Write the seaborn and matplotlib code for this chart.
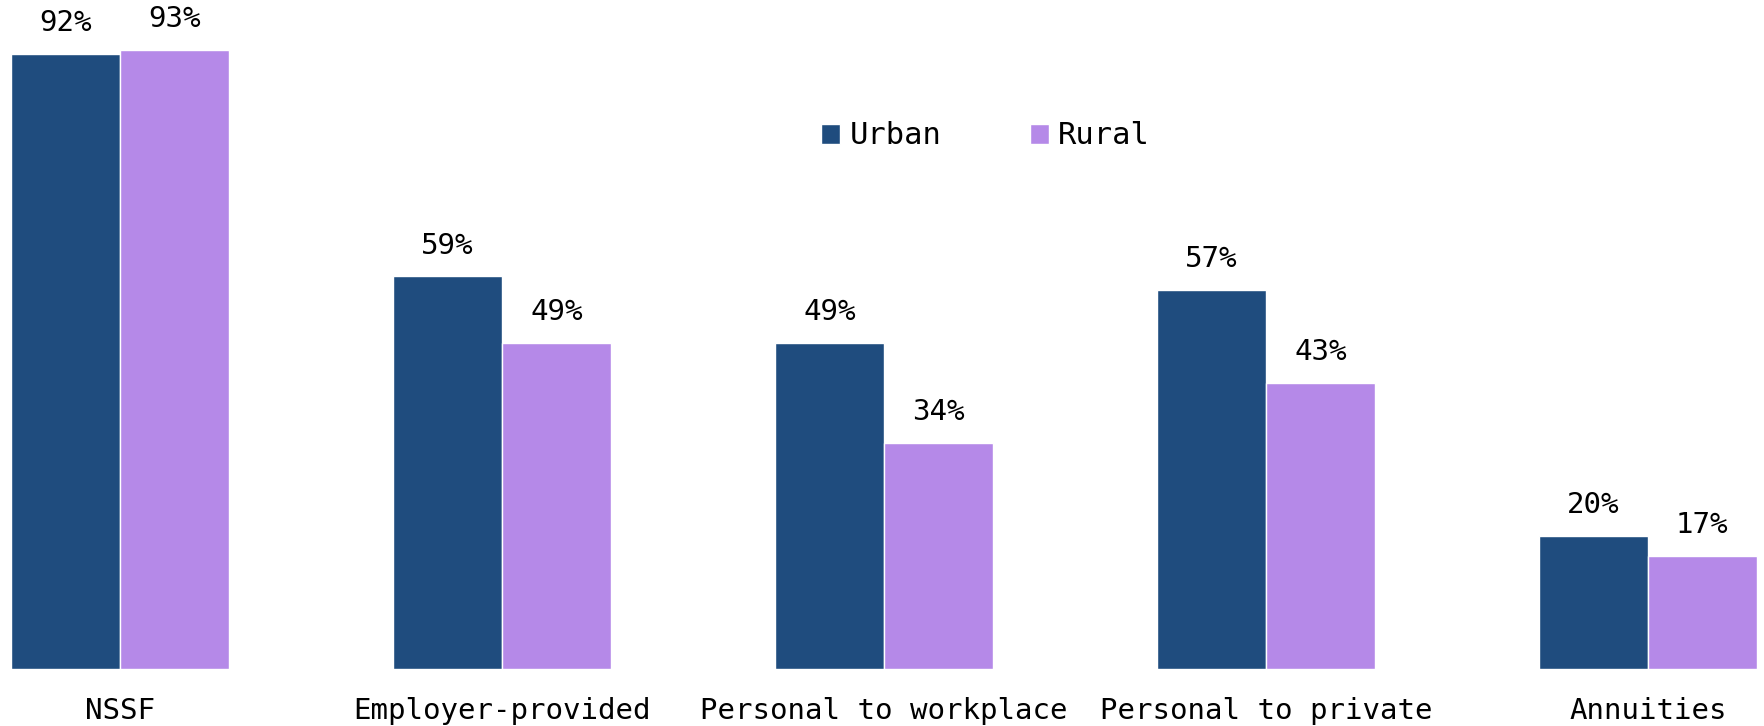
import pandas as pd
import seaborn as sns
import matplotlib.pyplot as plt

# data (NSSF urban bar is drawn a bit above 92)
categories = ["NSSF", "Employer-provided", "Personal to workplace", "Personal to private", "Annuities"]
urban = [92.4, 59, 49, 57, 20]
rural = [93, 49, 34, 43, 17]
areas = ["Urban", "Rural"]
colors = ["#1F4C7E", "#B589E8"]

df = pd.DataFrame({
    "type": categories * 2,
    "area": ["Urban"] * len(categories) + ["Rural"] * len(categories),
    "value": urban + rural,
})

sns.set_style("white")
plt.rcParams["font.family"] = ["DejaVu Sans Mono"]
plt.rcParams["text.color"] = "black"
plt.rcParams["xtick.color"] = "black"

fig = plt.figure(figsize=(17.64, 7.26), dpi=100)
ax = fig.add_axes([0, 57 / 726, 1, 669 / 726])

sns.barplot(data=df, x="type", y="value", hue="area", hue_order=areas,
            palette=colors, width=0.57, saturation=1, ax=ax)

for c in ax.containers:
    ax.bar_label(c, fmt="{:.0f}%", padding=12, fontsize=21, color="black")

ax.set_xlim(-0.314, 4.304)
ax.set_ylim(0, 100.5)
ax.set_xlabel("")
ax.set_ylabel("")
ax.set_yticks([])
ax.tick_params(axis="x", length=0, pad=20, labelsize=21, labelcolor="black")
sns.despine(ax=ax, left=True, bottom=True)

ax.legend(loc="center left", bbox_to_anchor=(806 / 1764, 1 - 136 / 726),
          bbox_transform=fig.transFigure, ncol=2, frameon=False,
          fontsize=22, handlelength=0.62, handleheight=0.62,
          handletextpad=0.3, columnspacing=2.9, borderpad=0)

fig.savefig("out.png", dpi=100)
